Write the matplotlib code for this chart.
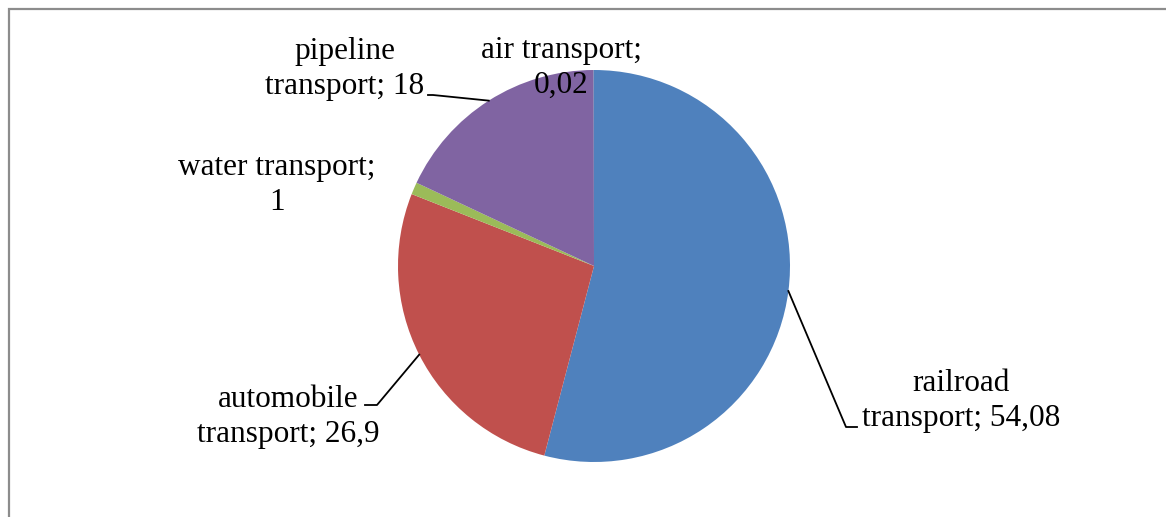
import numpy as np
import matplotlib
matplotlib.use("Agg")
import matplotlib.pyplot as plt
from matplotlib.patches import Rectangle

# Data
names = ["railroad\ntransport", "automobile\ntransport", "water transport;\n", "pipeline\ntransport", "air transport;\n"]
values = [54.08, 26.9, 1, 18, 0.02]
value_labels = ["54,08", "26,9", "1", "18", "0,02"]
colors = ["#4F81BD", "#C0504D", "#9BBB59", "#8064A2", "#4BACC6"]

W, H = 1166, 517
fig = plt.figure(figsize=(W / 100, H / 100), dpi=100)
plt.rcParams['font.family'] = ['Liberation Serif', 'DejaVu Serif']

# pie centre (594, 266) px, radius 196 px
cx, cy, r = 594, 266, 196
ax = fig.add_axes([(cx - r) / W, (H - cy - r) / H, 2 * r / W, 2 * r / H])
wedges, _ = ax.pie(values, colors=colors, startangle=90, counterclock=False,
                   radius=1, wedgeprops=dict(linewidth=0))
ax.set_xlim(-1, 1)
ax.set_ylim(-1, 1)
ax.set_aspect("equal")
ax.axis("off")

def px(x, y):
    # pixel -> data coords of the pie axes
    return (x - cx) / r, (cy - y) / r

# label text (pixel centre), and leader path (knee, end) or None
layout = [
    ((961, 401), [(846, 427), (857, 427)]),
    ((288, 417), [(377, 405), (365, 405)]),
    ((277, 185), None),
    ((345, 69), [(433, 95), (428, 95)]),
    ((561, 68), None),
]

for w, name, lab, (pos, path) in zip(wedges, names, value_labels, layout):
    if name.endswith("\n"):
        text = name + lab
    else:
        text = name + "; " + lab
    tx, ty = px(*pos)
    ax.text(tx, ty, text, ha="center", va="center", fontsize=22.5,
            linespacing=1.24, clip_on=False)
    if path:
        ang = np.deg2rad((w.theta1 + w.theta2) / 2)
        pts = [(np.cos(ang), np.sin(ang))] + [px(*p) for p in path]
        xs, ys = zip(*pts)
        ax.plot(xs, ys, color="black", lw=1.3, clip_on=False)

# outer frame (cut by the image edge on right and bottom)
fig.patches.append(Rectangle((9 / W, -0.2), 1.2, 1.2 - 9 / H,
                             transform=fig.transFigure, fill=False,
                             edgecolor="#8C8C8C", lw=1.6))

fig.savefig("out.png", dpi=100)
